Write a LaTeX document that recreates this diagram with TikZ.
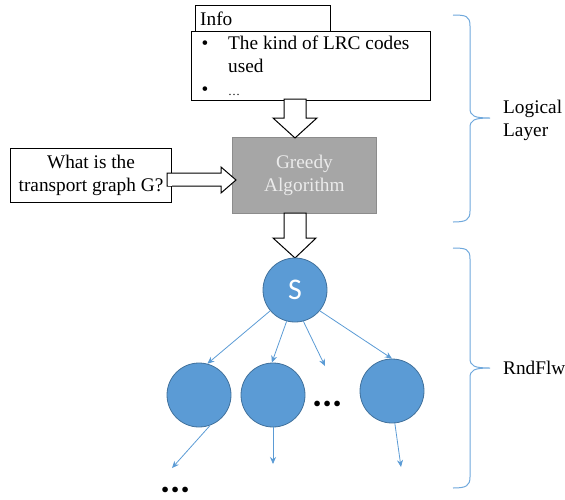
\documentclass[tikz,border=0pt]{standalone}
\usepackage{fontspec}
\setmainfont{Liberation Serif}
\newfontfamily\calib{Carlito}
\usetikzlibrary{calc,arrows.meta}
\definecolor{nodeblue}{HTML}{5B9BD5}
\definecolor{nodeedge}{HTML}{41719C}
\definecolor{greybox}{HTML}{A6A6A6}
\definecolor{greyedge}{HTML}{8C8C8C}
\definecolor{bracecol}{HTML}{6FA8DC}
\tikzset{
  txt/.style={font=\fontsize{19.3}{23}\selectfont},
  boxed/.style={draw=black, line width=1pt, fill=white},
  blockarrow/.style={draw=black, line width=1pt, fill=white, line join=miter},
  circ/.style={circle, fill=nodeblue, draw=nodeedge, line width=0.8pt, minimum size=64pt, inner sep=0pt},
  flow/.style={draw=nodeblue, line width=0.8pt, -{Stealth[length=7pt,width=6pt]}},
  bracestyle/.style={draw=bracecol, line width=1pt},
  dots/.style={font=\calib\bfseries\fontsize{38}{38}\selectfont, inner sep=0pt}
}
\begin{document}
\begin{tikzpicture}[x=1pt,y=-1pt]
\useasboundingbox (0,0) rectangle (565,499);

% Info boxes
\node[boxed, minimum width=135pt, minimum height=26pt, inner sep=0pt, anchor=north west] (info) at (195,5) {};
\node[txt, anchor=west, inner sep=0pt] (infotxt) at (200,18.5) {Info};
\node[boxed, minimum width=239pt, minimum height=69pt, inner sep=0pt, anchor=north west] (bul) at (191,31) {};
\node[txt, anchor=base, inner sep=0pt] (b1) at (205,49) {\textbullet};
\node[txt, anchor=base west, inner sep=0pt] (t1) at (228,49) {The kind of LRC codes};
\node[txt, anchor=base west, inner sep=0pt] (t2) at (228,72) {used};
\node[txt, anchor=base, inner sep=0pt] (b2) at (205,95) {\textbullet};
\node[font=\fontsize{12}{12}\selectfont, anchor=base west, inner sep=0pt] (t3) at (228,95) {\ldots};

% Greedy box
\node[fill=greybox, draw=greyedge, line width=0.8pt, minimum width=144pt, minimum height=76pt, inner sep=0pt, anchor=north west,
      txt, text=white!92!black, align=center] (greedy) at (232,137) {Greedy\\Algorithm};

% Question box
\node[boxed, minimum width=161pt, minimum height=54pt, inner sep=0pt, anchor=north west,
      txt, align=center] (q) at (10,148) {What is the\\transport graph G?};

% block arrow down 1
\draw[blockarrow] (284,99) -- (306,99) -- (306,118) -- (317,118) -- (295,138) -- (273,118) -- (284,118) -- cycle;
% block arrow right
\draw[blockarrow] (167,173) -- (221,173) -- (221,167) -- (236,180) -- (221,193) -- (221,186) -- (167,186) -- cycle;
\draw[black, line width=1pt] (171,173.5) -- (171,185.5);
\fill[white] (168,173.5) rectangle (172,185.5);
% block arrow down 2
\draw[blockarrow] (284,213) -- (306,213) -- (306,238) -- (316,238) -- (295,258) -- (273,238) -- (284,238) -- cycle;

% circles
\node[circ, text=white, font=\calib\fontsize{30}{30}\selectfont] (s) at (295,290) {S};
\node[circ] (c1) at (199,395) {};
\node[circ] (c2) at (273,395) {};
\node[circ] (c3) at (392,391) {};
\coordinate (e3) at (325,366);
\coordinate (d1) at (172,468);
\coordinate (d2) at (273,464);
\coordinate (d3) at (401,467);

\draw[flow] (s.-140) -- (c1.75);
\draw[flow] (s.-105) -- (c2.92);
\draw[flow] (s.-75) -- (e3);
\draw[flow] (s.-40) -- (c3.90);
\draw[flow] (c1.-70) -- (d1);
\draw[flow] (c2.-90) -- (d2);
\draw[flow] (c3.-85) -- (d3);

\node[dots] (dd1) at (327.5,404) {...};
\node[dots] (dd2) at (175.5,490) {...};

% braces
\draw[bracestyle] (453,15) .. controls (466,15) and (470,16) .. (470,26) -- (470,108)
  .. controls (470,116) and (474,118) .. (490,118)
  .. controls (474,118) and (470,120) .. (470,128) -- (470,211)
  .. controls (470,220) and (466,222) .. (453,222);
\draw[bracestyle] (453,248) .. controls (466,248) and (470,249) .. (470,259) -- (470,358)
  .. controls (470,366) and (474,368) .. (490,368)
  .. controls (474,368) and (470,370) .. (470,378) -- (470,477)
  .. controls (470,486) and (466,488) .. (453,488);
\node[txt, anchor=west, align=left, inner sep=0pt] (ll) at (503,120) {Logical\\Layer};
\node[txt, anchor=west, inner sep=0pt] (rf) at (503,368) {RndFlw};
\end{tikzpicture}
\end{document}
